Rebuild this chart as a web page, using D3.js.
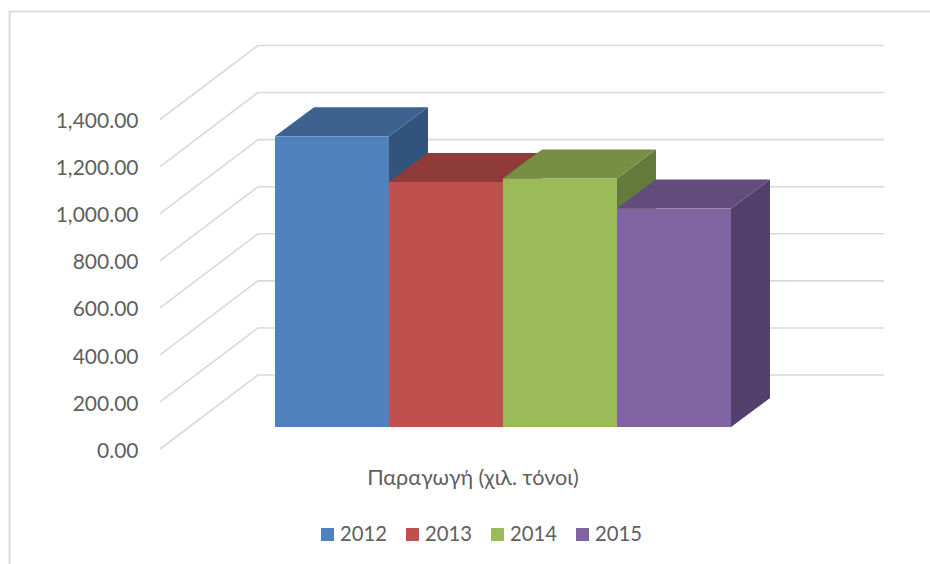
<!DOCTYPE html>
<html>
<head>
<meta charset="utf-8">
<script src="https://cdn.jsdelivr.net/npm/d3@7"></script>
<style>
html,body{margin:0;padding:0;background:#fff;overflow:hidden}
text{font-family:Lato,"Open Sans",sans-serif;fill:#5f5f5f}
</style>
</head>
<body>
<svg id="c" width="930" height="564"></svg>
<script>
const years = ["2012","2013","2014","2015"];
const values = [1235, 1041, 1056, 928];
const frontColors = ["#4f81bd","#c0504d","#9bbb59","#8064a2"];
const topColors = ["#3e628f","#8f3b39","#778f45","#624c7c"];
const sideColors = ["#32547c","#8f3b39","#647a3a","#523f6c"];
const yTicks = [0,200,400,600,800,1000,1200,1400];
const categoryLabel = "Παραγωγή (χιλ. τόνοι)";

const svg = d3.select("#c");
const grid = "#d9d9d9";

// chart frame (only top and left edges visible in the crop)
svg.append("path").attr("d","M9.5 564V11.5H930").attr("fill","none").attr("stroke","#dcdcdc").attr("stroke-width",2);

// value scale on the front plane of the floor
const y = d3.scaleLinear().domain([0,1400]).range([449,119.5]);
// depth offset of the walls and of the bars
const wall = {dx:98, dy:-74};
const bar = {dx:39, dy:-29};
const barShift = -22;            // front of the bars lies this far up from the front plane

// gridlines: side wall + back wall
const gridG = svg.append("g");
gridG.selectAll("path").data(yTicks).join("path")
  .attr("fill","none").attr("stroke",grid).attr("stroke-width",1.6)
  .attr("d",d=>`M160 ${y(d)}L${160+wall.dx} ${y(d)+wall.dy}H884`);

// axis labels
const axis = d3.axisLeft(y).tickValues(yTicks).tickSize(0).tickPadding(0).tickFormat(d3.format(",.2f"));
const ax = svg.append("g").attr("transform","translate(138.5,0)").call(axis);
ax.select(".domain").remove();
ax.selectAll("text").attr("font-size",21).style("font-family","Lato,'Open Sans',sans-serif").style("fill","#5f5f5f").attr("dy","0.39em");

// bars
const x = d3.scaleBand().domain(years).range([275,731]);
const base = y(0)+barShift;
const h = v => y(0)-y(v);
const g = svg.append("g").selectAll("g").data(years).join("g");
g.each(function(yr,i){
  const s = d3.select(this), x0=x(yr), x1=x0+x.bandwidth(), t=base-h(values[i]);
  s.append("path").attr("fill",sideColors[i])
    .attr("d",`M${x1} ${t}L${x1+bar.dx} ${t+bar.dy}V${base+bar.dy}L${x1} ${base}Z`);
  s.append("path").attr("fill",topColors[i])
    .attr("d",`M${x0} ${t}L${x0+bar.dx} ${t+bar.dy}H${x1+bar.dx}L${x1} ${t}Z`);
  s.append("rect").attr("x",x0).attr("y",t).attr("width",x.bandwidth()).attr("height",h(values[i])).attr("fill",frontColors[i]);
});

// category label
svg.append("text").attr("x",473).attr("y",485).attr("text-anchor","middle").attr("font-size",21.6).text(categoryLabel);

// legend
const lx = d3.scalePoint().domain(years).range([321,576]);
const lg = svg.append("g").selectAll("g").data(years).join("g").attr("transform",d=>`translate(${lx(d)},0)`);
lg.append("rect").attr("y",528).attr("width",13).attr("height",13).attr("fill",(d,i)=>frontColors[i]);
lg.append("text").attr("x",19).attr("y",541).attr("font-size",20.3).text(d=>d);
</script>
</body>
</html>
